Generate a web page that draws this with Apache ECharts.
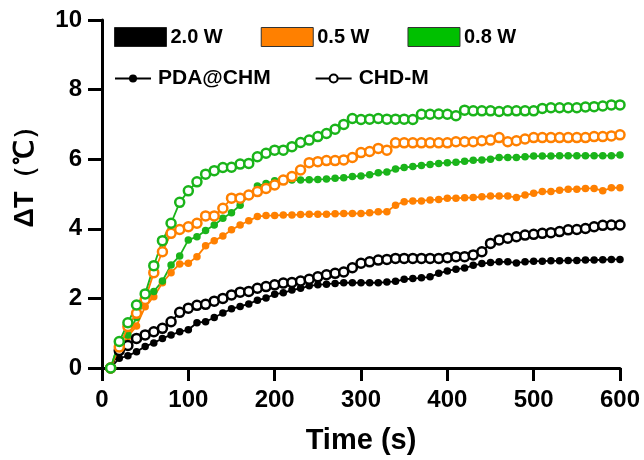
<!DOCTYPE html>
<html>
<head>
<meta charset="utf-8">
<script src="https://cdn.jsdelivr.net/npm/echarts@6/dist/echarts.min.js"></script>
<style>html,body{margin:0;padding:0;background:#fff}#c{width:644px;height:460px}</style>
</head>
<body>
<div id="c"></div>
<script>
const times = [10,20,30,40,50,60,70,80,90,100,110,120,130,140,150,160,170,180,190,200,210,220,230,240,250,260,270,280,290,300,310,320,330,340,350,360,370,380,390,400,410,420,430,440,450,460,470,480,490,500,510,520,530,540,550,560,570,580,590,600];
const xTicks = [0,100,200,300,400,500,600];
const yTicks = [0,2,4,6,8,10];
const powerLabels = ['2.0 W','0.5 W','0.8 W'];
const materialLabels = ['PDA@CHM','CHD-M'];
const yTitle = 'ΔT（℃）';
const xTitle = 'Time (s)';

const pda20 = [0,0.28,0.35,0.47,0.62,0.72,0.85,0.95,1.04,1.1,1.3,1.33,1.45,1.58,1.7,1.77,1.84,1.95,2.01,2.12,2.16,2.24,2.29,2.36,2.39,2.41,2.43,2.45,2.45,2.45,2.45,2.45,2.47,2.49,2.55,2.57,2.59,2.62,2.72,2.79,2.84,2.87,2.95,3.0,3.03,3.05,3.05,3.02,3.05,3.07,3.07,3.08,3.08,3.09,3.09,3.1,3.1,3.11,3.12,3.12];
const chd20 = [0,0.5,0.65,0.85,0.95,1.04,1.14,1.33,1.6,1.72,1.8,1.83,1.92,2.0,2.1,2.18,2.2,2.29,2.34,2.39,2.44,2.46,2.5,2.55,2.62,2.68,2.72,2.76,2.88,3.01,3.05,3.1,3.12,3.15,3.15,3.15,3.15,3.15,3.15,3.17,3.2,3.2,3.25,3.34,3.58,3.68,3.73,3.77,3.82,3.84,3.87,3.89,3.92,3.97,3.98,4.01,4.06,4.1,4.11,4.11];
const pda05 = [0,0.52,0.9,1.21,1.76,2.05,2.45,2.74,2.99,3.01,3.2,3.51,3.66,3.79,3.97,4.11,4.23,4.35,4.38,4.38,4.4,4.4,4.41,4.42,4.42,4.42,4.43,4.44,4.44,4.44,4.46,4.49,4.49,4.68,4.78,4.8,4.8,4.83,4.84,4.88,4.88,4.89,4.9,4.92,4.94,4.94,4.94,4.9,4.97,5.02,5.07,5.07,5.11,5.14,5.14,5.16,5.16,5.09,5.18,5.18];
const chd05 = [0,0.6,1.19,1.57,1.97,2.74,3.34,3.87,3.98,4.06,4.16,4.37,4.37,4.59,4.88,4.88,4.97,5.07,5.16,5.26,5.4,5.5,5.69,5.9,5.93,5.96,5.96,5.98,6.05,6.19,6.22,6.31,6.26,6.47,6.47,6.47,6.47,6.47,6.47,6.47,6.5,6.5,6.5,6.53,6.55,6.62,6.5,6.53,6.58,6.62,6.62,6.62,6.62,6.62,6.62,6.62,6.65,6.65,6.67,6.7];
const pda08 = [0,0.79,0.95,1.45,1.95,2.2,2.5,2.96,3.22,3.68,3.77,3.95,4.11,4.3,4.46,4.68,4.97,5.23,5.3,5.38,5.4,5.4,5.4,5.41,5.42,5.43,5.45,5.47,5.5,5.52,5.55,5.61,5.63,5.72,5.76,5.79,5.82,5.85,5.88,5.9,5.91,5.94,5.97,5.98,6.0,6.05,6.05,6.05,6.07,6.09,6.09,6.09,6.1,6.1,6.1,6.1,6.1,6.1,6.1,6.12];
const chd08 = [0,0.76,1.3,1.81,2.13,2.94,3.66,4.16,4.76,5.09,5.35,5.57,5.67,5.76,5.77,5.86,5.88,6.07,6.17,6.26,6.26,6.36,6.48,6.55,6.65,6.74,6.86,7.0,7.17,7.14,7.15,7.17,7.15,7.15,7.15,7.14,7.29,7.29,7.3,7.29,7.25,7.41,7.39,7.39,7.39,7.37,7.39,7.39,7.39,7.39,7.46,7.48,7.48,7.48,7.48,7.5,7.51,7.53,7.56,7.56];

const BLACK = '#000000', ORANGE = '#ff8000', GREEN = '#1ab41a';
const FONT = '"Liberation Sans", Arial, sans-serif';

function pts(vals){ return times.map((t,i)=>[t, vals[i]]); }
function filled(name, vals, color){
  return {name, type:'line', data:pts(vals), symbol:'circle', symbolSize:7.5,
    lineStyle:{color, width:1.8}, itemStyle:{color}, z:3};
}
function open(name, vals, color){
  return {name, type:'line', data:pts(vals), symbol:'circle', symbolSize:9,
    lineStyle:{color, width:1.8}, itemStyle:{color:'#fff', borderColor:color, borderWidth:2.5}, z:4};
}

const chart = echarts.init(document.getElementById('c'), null, {renderer:'canvas'});
chart.setOption({
  animation:false,
  backgroundColor:'#fff',
  grid:{left:102, right:24, top:20, bottom:92},
  xAxis:{type:'value', min:xTicks[0], max:xTicks[xTicks.length-1], interval:100,
    name:xTitle, nameLocation:'middle', nameGap:58,
    nameTextStyle:{fontFamily:FONT, fontWeight:'bold', fontSize:29, color:'#000'},
    axisLine:{lineStyle:{color:'#000', width:3}},
    axisTick:{length:13, lineStyle:{color:'#000', width:3}},
    axisLabel:{margin:20, fontFamily:FONT, fontWeight:'bold', fontSize:24, color:'#000'},
    splitLine:{show:false}},
  yAxis:{type:'value', min:yTicks[0], max:yTicks[yTicks.length-1], interval:2,
    axisLine:{show:true, lineStyle:{color:'#000', width:3}},
    axisTick:{show:true, length:14, lineStyle:{color:'#000', width:3}},
    axisLabel:{margin:20, fontFamily:FONT, fontWeight:'bold', fontSize:24, color:'#000'},
    splitLine:{show:false}},
  graphic:[{type:'text', x:26, y:170, rotation:Math.PI/2,
    style:{text:yTitle, fontFamily:FONT, fontWeight:'bold', fontSize:27, fill:'#000', align:'center', verticalAlign:'middle'}}],
  legend:[
    {data:[
      {name:powerLabels[0], icon:'rect', itemStyle:{color:BLACK, borderColor:'#222', borderWidth:1}},
      {name:powerLabels[1], icon:'rect', itemStyle:{color:ORANGE, borderColor:'#333', borderWidth:1}},
      {name:powerLabels[2], icon:'rect', itemStyle:{color:'#00c000', borderColor:'#333', borderWidth:1}}],
     left:109, top:22, itemWidth:52, itemHeight:19, itemGap:38, selectedMode:false,
     textStyle:{fontFamily:FONT, fontWeight:'bold', fontSize:20, color:'#000', padding:[0,0,0,-1]}},
    {data:materialLabels, left:109, top:63, itemWidth:36, itemHeight:10, itemGap:44, selectedMode:false,
     textStyle:{fontFamily:FONT, fontWeight:'bold', fontSize:21, color:'#000', padding:[0,0,0,2]}}
  ],
  series:[
    {name:powerLabels[0], type:'line', data:[], itemStyle:{color:BLACK}},
    {name:powerLabels[1], type:'line', data:[], itemStyle:{color:ORANGE}},
    {name:powerLabels[2], type:'line', data:[], itemStyle:{color:GREEN}},
    {name:materialLabels[0], type:'line', data:[], symbol:'circle', symbolSize:7, lineStyle:{color:BLACK, width:2}, itemStyle:{color:BLACK}},
    {name:materialLabels[1], type:'line', data:[], symbol:'circle', symbolSize:9, lineStyle:{color:BLACK, width:2}, itemStyle:{color:'#fff', borderColor:BLACK, borderWidth:2}},
    filled('PDA@CHM 2.0 W', pda20, BLACK),
    open('CHD-M 2.0 W', chd20, BLACK),
    filled('PDA@CHM 0.5 W', pda05, ORANGE),
    open('CHD-M 0.5 W', chd05, ORANGE),
    filled('PDA@CHM 0.8 W', pda08, GREEN),
    open('CHD-M 0.8 W', chd08, GREEN)
  ]
});
</script>
</body>
</html>
